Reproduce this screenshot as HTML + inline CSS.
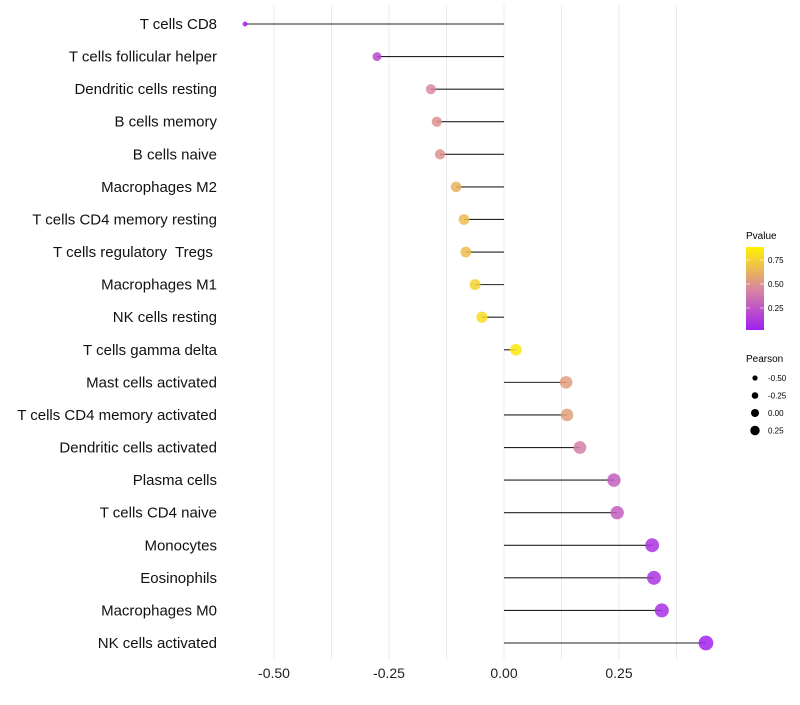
<!DOCTYPE html>
<html><head><meta charset="utf-8"><style>
body{margin:0;background:#fff;font-family:"Liberation Sans",sans-serif;}
text{white-space:pre;}
</style></head><body>
<svg id="chart" width="800" height="700" xmlns="http://www.w3.org/2000/svg">
<defs><linearGradient id="pg" x1="0" y1="1" x2="0" y2="0">
<stop offset="0" stop-color="#a01ff2"/><stop offset="0.5" stop-color="#d9889e"/><stop offset="1" stop-color="#fff200"/>
</linearGradient></defs>
<g id="grid"></g><g id="marks"></g><g id="ylabels"></g><g id="xlabels"></g>
<g>
<text x="746" y="239" font-size="10">Pvalue</text>
<rect x="746" y="247" width="18" height="83" fill="url(#pg)"/>
<line x1="746" x2="750" y1="260" y2="260" stroke="#fff" opacity="0.6"/><line x1="760" x2="764" y1="260" y2="260" stroke="#fff" opacity="0.6"/>
<line x1="746" x2="750" y1="284" y2="284" stroke="#fff" opacity="0.6"/><line x1="760" x2="764" y1="284" y2="284" stroke="#fff" opacity="0.6"/>
<line x1="746" x2="750" y1="308" y2="308" stroke="#fff" opacity="0.6"/><line x1="760" x2="764" y1="308" y2="308" stroke="#fff" opacity="0.6"/>
<text x="768" y="263" font-size="8">0.75</text><text x="768" y="287" font-size="8">0.50</text><text x="768" y="311" font-size="8">0.25</text>
</g>
<g id="sizeLegend"><text x="746" y="362" font-size="10">Pearson</text></g>
</svg>
<script>
const categories=["T cells CD8","T cells follicular helper","Dendritic cells resting","B cells memory","B cells naive","Macrophages M2","T cells CD4 memory resting","T cells regulatory  Tregs ","Macrophages M1","NK cells resting","T cells gamma delta","Mast cells activated","T cells CD4 memory activated","Dendritic cells activated","Plasma cells","T cells CD4 naive","Monocytes","Eosinophils","Macrophages M0","NK cells activated"];
const pearson=[-0.563,-0.276,-0.159,-0.146,-0.139,-0.104,-0.087,-0.083,-0.063,-0.048,0.026,0.135,0.137,0.165,0.239,0.246,0.322,0.326,0.343,0.439];
const pvalues=[0.01,0.2,0.5,0.55,0.55,0.7,0.75,0.75,0.85,0.9,0.95,0.6,0.62,0.45,0.3,0.3,0.1,0.1,0.08,0.02];
const xTicks=[-0.5,-0.25,0,0.25];
const xTickLabels=["-0.50","-0.25","0.00","0.25"];
const sizeLegendVals=[-0.5,-0.25,0,0.25];
const sizeLegendLabels=["-0.50","-0.25","0.00","0.25"];
const NS="http://www.w3.org/2000/svg";
const x=v=>504+v*460;
const y=i=>24+i*(643-24)/(categories.length-1);
const r=v=>Math.sqrt(Math.max(3,33+48*v));
const rl=v=>4+2.8*v;
function mix(a,b,t){return a.map((c,i)=>Math.round(c+(b[i]-c)*t));}
function col(p){const s0=[160,31,242],s1=[217,136,158],s2=[255,242,0];const c=p<0.5?mix(s0,s1,p/0.5):mix(s1,s2,(p-0.5)/0.5);return `rgb(${c.join(',')})`;}
function mk(tag,attrs,parent){const e=document.createElementNS(NS,tag);for(const k in attrs)e.setAttribute(k,attrs[k]);parent.appendChild(e);return e;}
const grid=document.getElementById('grid'),marks=document.getElementById('marks'),yl=document.getElementById('ylabels'),xl=document.getElementById('xlabels');
for(let v=-0.5;v<=0.38;v+=0.125){const g=mk('line',{x1:x(v),x2:x(v),y1:5,y2:660,stroke:'#ebebeb','stroke-width':1},grid);

}
xTicks.forEach((t,i)=>{const e=mk('text',{x:x(t),y:678,'font-size':14,'text-anchor':'middle',fill:'#222'},xl);e.textContent=xTickLabels[i];

});
categories.forEach((c,i)=>{
const t=mk('text',{x:217,y:y(i)+5,'font-size':15,'text-anchor':'end',fill:'#111'},yl);t.textContent=c;


const l=mk('line',{x1:x(0),x2:x(pearson[i]),y1:y(i),y2:y(i),stroke:'#222','stroke-width':1.1},marks);


const d=mk('circle',{cx:x(pearson[i]),cy:y(i),r:r(pearson[i]),fill:col(pvalues[i]),'fill-opacity':0.85},marks);


});
const sl=document.getElementById('sizeLegend');
sizeLegendVals.forEach((v,i)=>{const cy=378+i*17.5;
const c=mk('circle',{cx:755,cy:cy,r:rl(v),fill:'#000'},sl);


const t=mk('text',{x:768,y:cy+3,'font-size':8},sl);t.textContent=sizeLegendLabels[i];

});
</script>
</body></html>
